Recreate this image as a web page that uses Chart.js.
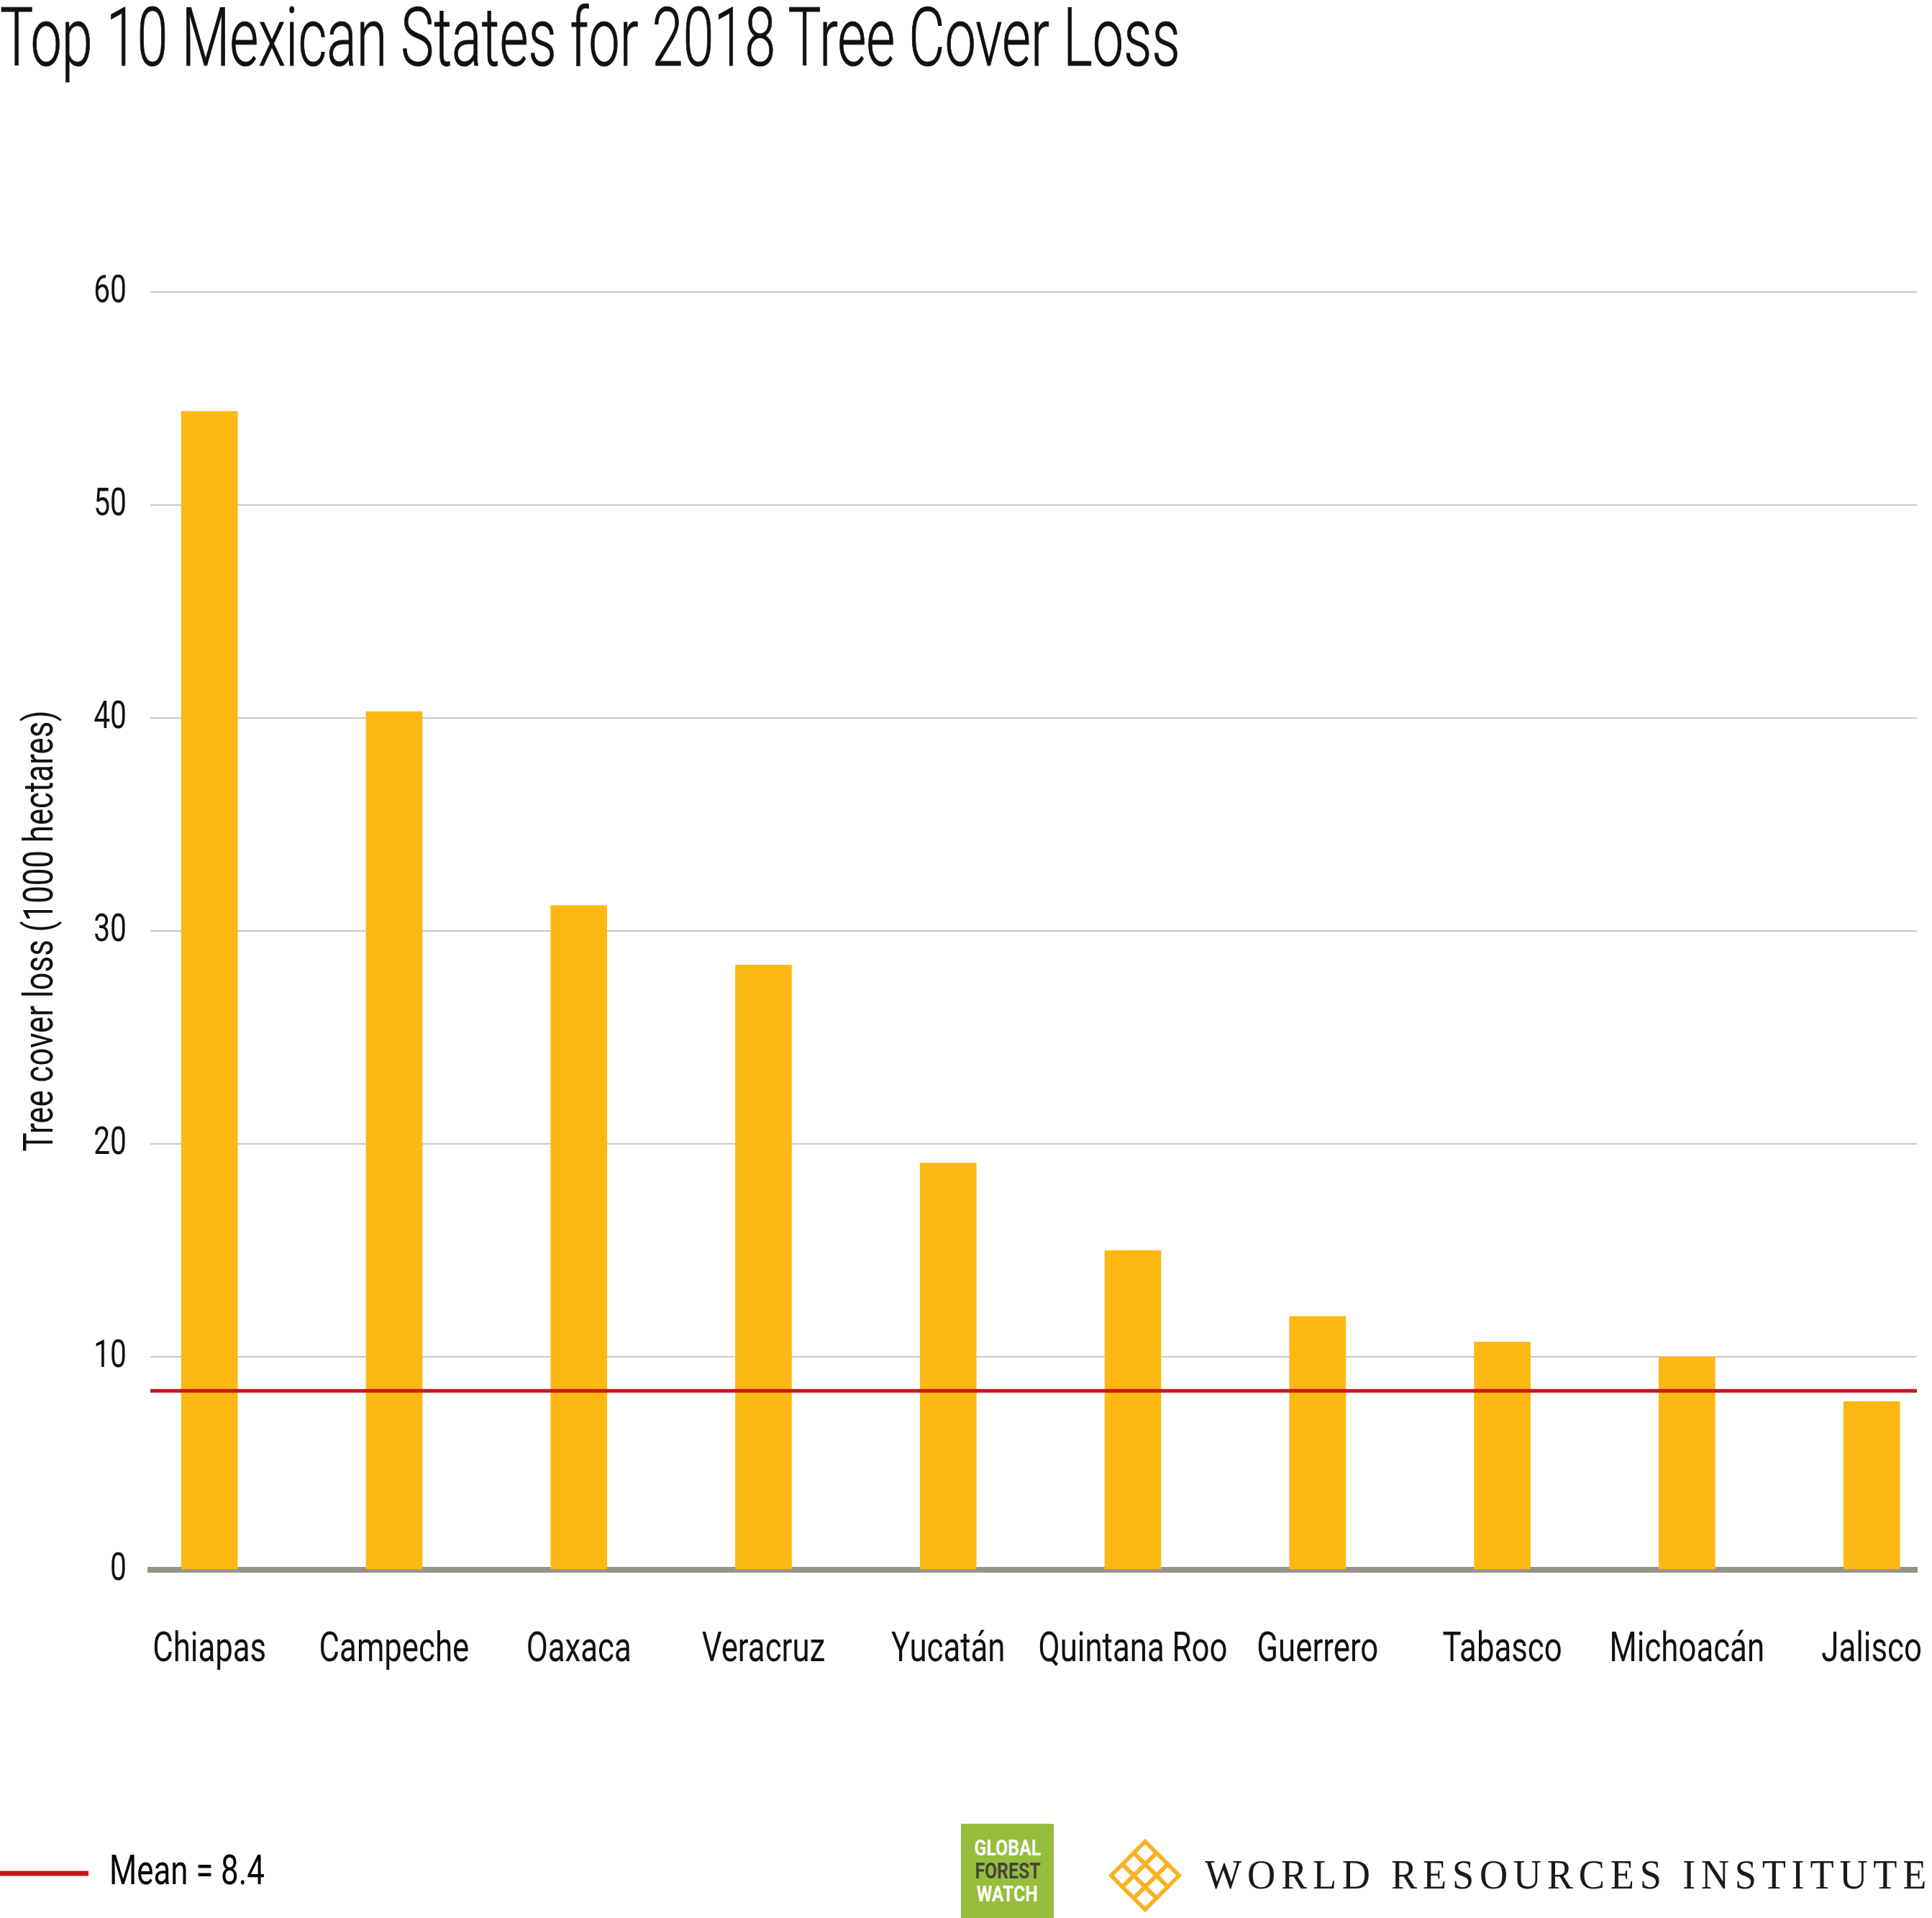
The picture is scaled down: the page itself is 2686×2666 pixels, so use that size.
<!DOCTYPE html>
<html>
<head>
<meta charset="utf-8">
<script src="https://cdn.jsdelivr.net/npm/chart.js@4.4.0/dist/chart.umd.min.js"></script>
<style>
  html, body { margin: 0; padding: 0; background: #fff; }
  body { width: 2686px; height: 2666px; position: relative; overflow: hidden; }
  #wrap { position: absolute; left: 0; top: 0; width: 2686px; height: 2666px; }
  #title { position: absolute; left: 0; top: -4px; font-family: Roboto, sans-serif; font-weight: 300; font-size: 114px; line-height: 112px;
           color: #111; white-space: nowrap; transform-origin: 0 0; -webkit-text-stroke: 1px #111; }
  #gfw { position: absolute; left: 1336px; top: 2535px; width: 129px; height: 131px; background: #97bd3d;
         display: flex; flex-direction: column; justify-content: center; align-items: center; }
  #gfw span { display: block; font-family: Roboto, sans-serif; font-weight: bold; font-size: 31px; line-height: 32px; color: #fff;
              transform: scaleX(0.8); white-space: nowrap; }
  #gfw span.dark { color: #45463f; }
  #knot { position: absolute; left: 1536px; top: 2548px; width: 112px; height: 118px; }
  #wri { position: absolute; left: 1675px; top: 2578px; font-family: 'Liberation Serif', 'DejaVu Serif', serif;
         font-size: 56px; line-height: 56px; color: #1a1a1a; letter-spacing: 8px; white-space: nowrap; transform-origin: 0 0; }
</style>
</head>
<body>
<div id="wrap"><canvas id="lossChart" width="2686" height="2666"></canvas></div>
<div id="title">Top 10 Mexican States for 2018 Tree Cover Loss</div>
<div id="gfw"><span>GLOBAL</span><span class="dark">FOREST</span><span>WATCH</span></div>
<svg id="knot" viewBox="0 0 100 106">
  <g transform="translate(0 3) rotate(45 50 50)" fill="none" stroke="#f7b322" stroke-width="5">
    <rect x="20" y="20" width="20" height="20"/>
    <rect x="40" y="20" width="20" height="20"/>
    <rect x="60" y="20" width="20" height="20"/>
    <rect x="20" y="40" width="20" height="20"/>
    <rect x="40" y="40" width="20" height="20"/>
    <rect x="60" y="40" width="20" height="20"/>
    <rect x="20" y="60" width="20" height="20"/>
    <rect x="40" y="60" width="20" height="20"/>
    <rect x="60" y="60" width="20" height="20"/>
  </g>
</svg>
<div id="wri">WORLD RESOURCES INSTITUTE</div>
<script>
const states = ['Chiapas', 'Campeche', 'Oaxaca', 'Veracruz', 'Yucatán', 'Quintana Roo', 'Guerrero', 'Tabasco', 'Michoacán', 'Jalisco'];
const treeCoverLoss = [54.4, 40.3, 31.2, 28.4, 19.1, 15.0, 11.9, 10.7, 10.0, 7.9];
const meanLoss = 8.4;
const yMin = 0;
const yMax = 60;
const yStep = 10;
// x range in category units, so the first bar sits close to the axis
const xMin = -0.32;
const xMax = 9.245;

const fontFamily = 'Roboto, sans-serif';
const barColor = '#fdb813';
const meanColor = '#c8161e';

// squeeze the html texts to the widths in the picture
function fitWidth(id, target) {
    const el = document.getElementById(id);
    el.style.transform = 'scaleX(' + (target / el.offsetWidth) + ')';
}
fitWidth('title', 1641);
fitWidth('wri', 1011);

const ctx = document.getElementById('lossChart').getContext('2d');

// the original uses a condensed face; narrow every canvas text by the same ratio
ctx.font = '58px ' + fontFamily;
const squeeze = 158 / ctx.measureText('Chiapas').width;
const baseFillText = CanvasRenderingContext2D.prototype.fillText;
ctx.fillText = function (text, x, y, maxWidth) {
    const w = this.measureText(text).width * squeeze;
    baseFillText.call(this, text, x, y, maxWidth !== undefined ? Math.min(maxWidth, w) : w);
};

const lossChart = new Chart(ctx, {
    data: {
        datasets: [
            {
                type: 'bar',
                label: 'Tree cover loss',
                data: states.map((s, i) => ({ x: i, y: treeCoverLoss[i] })),
                backgroundColor: barColor,
                barThickness: 78,
                order: 1
            },
            {
                type: 'line',
                label: 'Mean = ' + meanLoss,
                data: [{ x: xMin, y: meanLoss }, { x: xMax, y: meanLoss }],
                borderColor: meanColor,
                backgroundColor: meanColor,
                borderWidth: 5,
                pointRadius: 0,
                order: 0
            }
        ]
    },
    options: {
        responsive: false,
        animation: false,
        layout: {
            padding: { left: 0, right: 21, top: 406, bottom: 23 }
        },
        plugins: {
            tooltip: { enabled: false },
            legend: {
                position: 'bottom',
                align: 'start',
                labels: {
                    boxWidth: 123,
                    boxHeight: 7,
                    padding: 0,
                    color: '#111',
                    font: { family: fontFamily, size: 58 },
                    generateLabels: () => [{
                        text: 'Mean = ' + meanLoss,
                        fillStyle: meanColor,
                        strokeStyle: meanColor,
                        lineWidth: 0,
                        datasetIndex: 1,
                        hidden: false
                    }]
                }
            }
        },
        scales: {
            x: {
                type: 'linear',
                min: xMin,
                max: xMax,
                offset: false,
                z: 1,
                grid: { display: false, drawTicks: false, offset: false },
                border: { display: true, color: '#94948b', width: 8 },
                afterBuildTicks: (scale) => {
                    scale.ticks = states.map((s, i) => ({ value: i }));
                },
                afterFit: (scale) => {
                    scale.height = 393;
                    scale.paddingLeft = 0;
                    scale.paddingRight = 0;
                },
                ticks: {
                    autoSkip: false,
                    maxRotation: 0,
                    padding: 78,
                    color: '#111',
                    font: { family: fontFamily, size: 58 },
                    callback: (v) => states[v]
                }
            },
            y: {
                min: yMin,
                max: yMax,
                afterFit: (scale) => { scale.width = 209; },
                grid: { color: '#c8c8c8', lineWidth: 2, drawTicks: false },
                border: { display: false },
                ticks: {
                    stepSize: yStep,
                    padding: 33,
                    color: '#111',
                    font: { family: fontFamily, size: 54 }
                },
                title: {
                    display: true,
                    text: 'Tree cover loss (1000 hectares)',
                    color: '#111',
                    font: { family: fontFamily, size: 58 },
                    padding: { top: 24, bottom: 0 }
                }
            }
        }
    }
});
</script>
</body>
</html>
